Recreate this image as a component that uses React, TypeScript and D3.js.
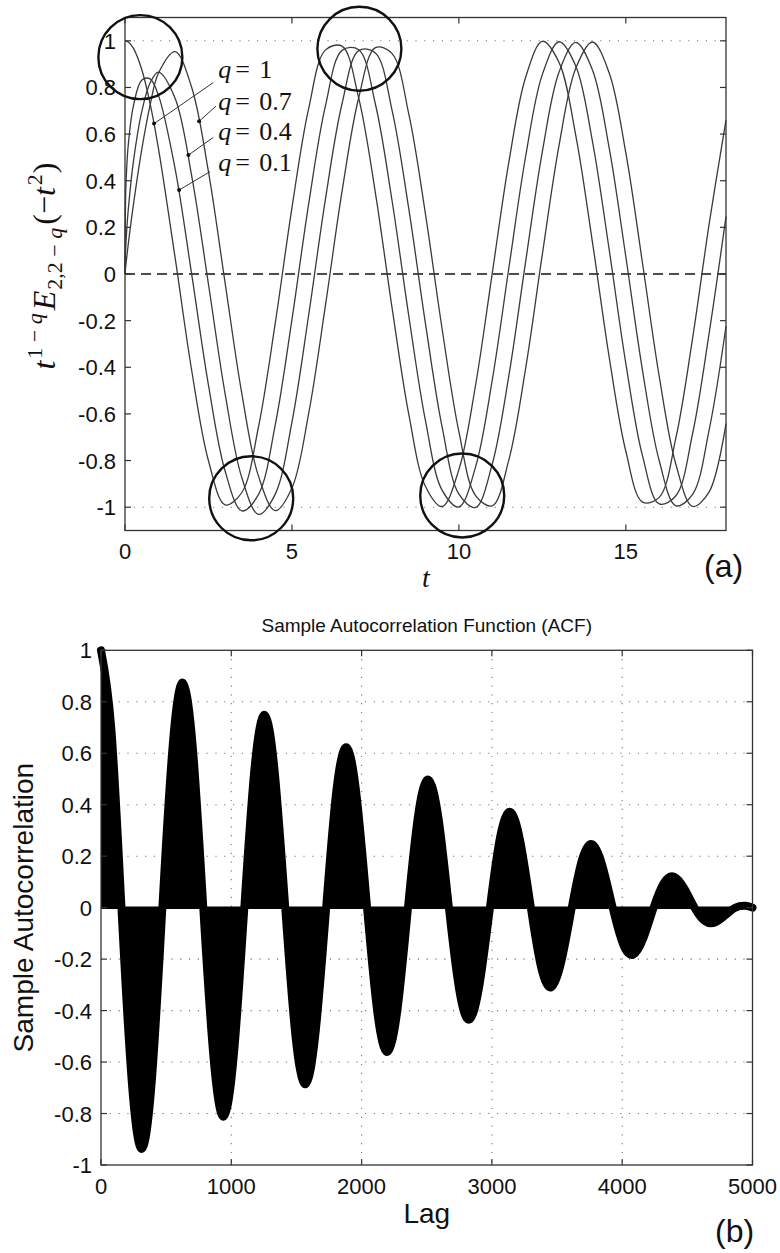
import React from "react";
import * as d3 from "d3";

// ---- panel (a): t^(1-q) E_{2,2-q}(-t^2) ----
const tValues = [
  0, 0.02, 0.05, 0.1, 0.25, 0.5, 0.75, 1, 1.5, 2, 2.5, 3, 3.5, 4, 4.5, 5, 5.5, 6,
  6.5, 7, 7.5, 8, 8.5, 9, 9.5, 10, 10.5, 11, 11.5, 12, 12.5, 13, 13.5, 14, 14.5,
  15, 15.5, 16, 16.5, 17, 17.5, 18,
];
const seriesQ1 = [
  1, 1.0, 0.999, 0.995, 0.969, 0.878, 0.732, 0.54, 0.071, -0.416, -0.801, -0.99,
  -0.937, -0.654, -0.211, 0.284, 0.709, 0.96, 0.977, 0.754, 0.347, -0.146, -0.602,
  -0.911, -0.997, -0.839, -0.476, 0.004, 0.483, 0.844, 0.998, 0.907, 0.595, 0.137,
  -0.355, -0.76, -0.978, -0.958, -0.702, -0.275, 0.219, 0.66,
];
const seriesQ07 = [
  0, 0.345, 0.453, 0.557, 0.72, 0.831, 0.837, 0.767, 0.452, -0.004, -0.477, -0.846,
  -1.016, -0.945, -0.647, -0.196, 0.3, 0.719, 0.959, 0.962, 0.728, 0.313, -0.18,
  -0.63, -0.928, -0.999, -0.827, -0.454, 0.029, 0.505, 0.856, 0.996, 0.892, 0.569,
  0.106, -0.384, -0.78, -0.986, -0.951, -0.684, -0.249, 0.246,
];
const seriesQ04 = [
  0, 0.107, 0.185, 0.28, 0.48, 0.695, 0.819, 0.866, 0.754, 0.419, -0.044, -0.515,
  -0.874, -1.031, -0.944, -0.635, -0.177, 0.318, 0.73, 0.958, 0.948, 0.701, 0.279,
  -0.214, -0.658, -0.944, -1.001, -0.815, -0.433, 0.054, 0.525, 0.866, 0.993, 0.875,
  0.542, 0.074, -0.414, -0.801, -0.994, -0.945, -0.665, -0.224,
];
const seriesQ01 = [
  0, 0.031, 0.07, 0.131, 0.295, 0.532, 0.723, 0.861, 0.954, 0.799, 0.438, -0.04,
  -0.514, -0.868, -1.015, -0.918, -0.599, -0.138, 0.354, 0.756, 0.971, 0.945, 0.686,
  0.256, -0.238, -0.676, -0.95, -0.994, -0.795, -0.404, 0.085, 0.552, 0.882, 0.995,
  0.863, 0.519, 0.046, -0.439, -0.817, -0.997, -0.933, -0.642,
];
const qCurves = [seriesQ1, seriesQ07, seriesQ04, seriesQ01];

const qLabels = ["1", "0.7", "0.4", "0.1"];
// annotation anchors in data units (t, value)
const qDots = [[0.87, 0.645], [2.22, 0.655], [1.9, 0.51], [1.62, 0.36]];
const qLineEnds = [[2.645, 0.821], [2.726, 0.72], [2.645, 0.586], [2.546, 0.439]];
const qTextAt = [[2.79, 0.84], [2.79, 0.703], [2.79, 0.575], [2.79, 0.443]];
const circleCentres = [[0.46, 0.93], [7.02, 0.966], [3.78, -0.962], [10.1, -0.95]];

const tTicks = [0, 5, 10, 15];
const valTicksA = [1, 0.8, 0.6, 0.4, 0.2, 0, -0.2, -0.4, -0.6, -0.8, -1];

// ---- panel (b): sample ACF ----
const lags = [
  0, 79, 157, 236, 314, 393, 471, 550, 628, 707, 785, 864, 942, 1021, 1100, 1178,
  1257, 1335, 1414, 1492, 1571, 1649, 1728, 1806, 1885, 1963, 2042, 2121, 2199, 2278,
  2356, 2435, 2513, 2592, 2670, 2749, 2827, 2906, 2985, 3063, 3142, 3220, 3299, 3377,
  3456, 3534, 3613, 3691, 3770, 3848, 3927, 4006, 4084, 4163, 4241, 4320, 4398, 4477,
  4555, 4634, 4712, 4791, 4869, 4948, 5000,
];
const acf = [
  1, 0.696, 0, -0.674, -0.937, -0.652, 0, 0.629, 0.874, 0.607, 0, -0.585, -0.812,
  -0.563, 0, 0.54, 0.749, 0.518, 0, -0.496, -0.686, -0.474, 0, 0.452, 0.623, 0.429,
  0, -0.407, -0.56, -0.385, 0, 0.363, 0.497, 0.341, 0, -0.318, -0.435, -0.296, 0,
  0.274, 0.372, 0.252, 0, -0.23, -0.309, -0.207, 0, 0.185, 0.246, 0.163, 0, -0.141,
  -0.183, -0.118, 0, 0.096, 0.12, 0.074, 0, -0.052, -0.058, -0.03, 0, 0.007, 0,
];
const lagTicks = [0, 1000, 2000, 3000, 4000, 5000];
const acfTicks = [1, 0.8, 0.6, 0.4, 0.2, 0, -0.2, -0.4, -0.6, -0.8, -1];

const A = { left: 125, right: 726, top: 17.5, bottom: 530.5 };
const B = { left: 101, right: 752.5, top: 650.3, bottom: 1165 };

const sans = "'Liberation Sans', Arial, Helvetica, sans-serif";
const serif = "'Liberation Serif', 'Times New Roman', serif";
const axisColor = "#333";

export default function App() {
  const xA = d3.scaleLinear().domain([0, 18]).range([A.left, A.right]);
  const yA = d3.scaleLinear().domain([-1.1, 1.1]).range([A.bottom, A.top]);
  const xB = d3.scaleLinear().domain([0, 5000]).range([B.left, B.right]);
  const yB = d3.scaleLinear().domain([-1, 1]).range([B.bottom, B.top]);

  const curveA = d3
    .line<number>()
    .x((_, i) => xA(tValues[i]))
    .y((d) => yA(d))
    .curve(d3.curveCatmullRom.alpha(0.5));

  const acfArea = d3
    .area<number>()
    .x((_, i) => xB(lags[i]))
    .y0(yB(0))
    .y1((d) => yB(d))
    .curve(d3.curveNatural);
  const acfLine = d3
    .line<number>()
    .x((_, i) => xB(lags[i]))
    .y((d) => yB(d))
    .curve(d3.curveNatural);

  const tick = 6;

  return (
    <svg
      width={780}
      height={1253}
      viewBox="0 0 780 1253"
      style={{ position: "absolute", left: 0, top: 0, display: "block" }}
      fontFamily={sans}
    >
      <rect width={780} height={1253} fill="#fff" />

      {/* ===== panel (a) ===== */}
      <g>
        {[1, -1].map((v) => (
          <line
            key={v}
            x1={A.left}
            x2={A.right}
            y1={yA(v)}
            y2={yA(v)}
            stroke="#777"
            strokeWidth={1.1}
            strokeDasharray="1.2,7.6"
          />
        ))}
        <line
          x1={A.left}
          x2={A.right}
          y1={yA(0)}
          y2={yA(0)}
          stroke="#111"
          strokeWidth={1.3}
          strokeDasharray="10,6"
        />
        {qCurves.map((s, i) => (
          <path key={i} d={curveA(s) || ""} fill="none" stroke="#3a3a3a" strokeWidth={1.3} />
        ))}

        {/* frame and ticks */}
        <rect
          x={A.left}
          y={A.top}
          width={A.right - A.left}
          height={A.bottom - A.top}
          fill="none"
          stroke={axisColor}
          strokeWidth={1.3}
        />
        {tTicks.map((t) => (
          <g key={t}>
            <line x1={xA(t)} x2={xA(t)} y1={A.bottom} y2={A.bottom - tick} stroke={axisColor} strokeWidth={1.2} />
            <line x1={xA(t)} x2={xA(t)} y1={A.top} y2={A.top + tick} stroke={axisColor} strokeWidth={1.2} />
            <text x={xA(t)} y={559} textAnchor="middle" fontSize={22} fill="#111">
              {String(t)}
            </text>
          </g>
        ))}
        {valTicksA.map((v) => (
          <g key={v}>
            <line x1={A.left} x2={A.left + tick} y1={yA(v)} y2={yA(v)} stroke={axisColor} strokeWidth={1.2} />
            <line x1={A.right} x2={A.right - tick} y1={yA(v)} y2={yA(v)} stroke={axisColor} strokeWidth={1.2} />
            <text x={116} y={yA(v) + 8} textAnchor="end" fontSize={22} fill="#111">
              {String(v)}
            </text>
          </g>
        ))}

        {/* axis labels */}
        <text x={426} y={587} textAnchor="middle" fontFamily={serif} fontStyle="italic" fontSize={28} fill="#111">
          t
        </text>
        <text
          transform="translate(55,266) rotate(-90)"
          textAnchor="middle"
          fontFamily={serif}
          fontSize={32}
          fill="#111"
        >
          <tspan fontStyle="italic">t</tspan>
          <tspan fontSize={22} dy={-13} dx={2}>
            1 − <tspan fontStyle="italic">q</tspan>
          </tspan>
          <tspan fontStyle="italic" dy={13} dx={3}>
            E
          </tspan>
          <tspan fontSize={22} dy={7} dx={1}>
            2,2 − <tspan fontStyle="italic">q</tspan>
          </tspan>
          <tspan dy={-7} dx={3}>
            (−
          </tspan>
          <tspan fontStyle="italic">t</tspan>
          <tspan fontSize={22} dy={-13} dx={2}>
            2
          </tspan>
          <tspan dy={13} dx={1}>)</tspan>
        </text>

        {/* q labels with pointers */}
        {qLabels.map((lab, i) => {
          const x0 = xA(qTextAt[i][0]);
          const yb = yA(qTextAt[i][1]);
          return (
            <g key={lab}>
              <line
                x1={xA(qDots[i][0])}
                y1={yA(qDots[i][1])}
                x2={xA(qLineEnds[i][0])}
                y2={yA(qLineEnds[i][1])}
                stroke="#333"
                strokeWidth={1}
              />
              <circle cx={xA(qDots[i][0])} cy={yA(qDots[i][1])} r={2} fill="#111" />
              <text y={yb} fontFamily={serif} fontSize={26} fill="#111">
                <tspan x={x0} fontStyle="italic">
                  q
                </tspan>
                <tspan x={x0 + 17}>=</tspan>
                <tspan x={x0 + 41}>{lab}</tspan>
              </text>
            </g>
          );
        })}

        {circleCentres.map(([t, v], i) => (
          <circle key={i} cx={xA(t)} cy={yA(v)} r={42} fill="none" stroke="#111" strokeWidth={2.4} />
        ))}

        <text x={704} y={577} fontSize={32} fill="#111">
          (a)
        </text>
      </g>

      {/* ===== panel (b) ===== */}
      <g>
        <text x={(B.left + B.right) / 2} y={632} textAnchor="middle" fontSize={19} fill="#111">
          Sample Autocorrelation Function (ACF)
        </text>

        {lagTicks.slice(1, -1).map((l) => (
          <line
            key={l}
            x1={xB(l)}
            x2={xB(l)}
            y1={B.top}
            y2={B.bottom}
            stroke="#777"
            strokeWidth={1.1}
            strokeDasharray="1.2,7.6"
          />
        ))}
        {acfTicks.slice(1, -1).map((v) => (
          <line
            key={v}
            x1={B.left}
            x2={B.right}
            y1={yB(v)}
            y2={yB(v)}
            stroke="#777"
            strokeWidth={1.1}
            strokeDasharray="1.2,7.6"
          />
        ))}

        <path d={acfArea(acf) || ""} fill="#000" />
        <path
          d={acfLine(acf) || ""}
          fill="none"
          stroke="#000"
          strokeWidth={8}
          strokeLinecap="round"
          strokeLinejoin="round"
        />
        <line x1={B.left} x2={B.right} y1={yB(0)} y2={yB(0)} stroke="#000" strokeWidth={2.5} />

        <rect
          x={B.left}
          y={B.top}
          width={B.right - B.left}
          height={B.bottom - B.top}
          fill="none"
          stroke={axisColor}
          strokeWidth={1.3}
        />
        {lagTicks.map((l) => (
          <g key={l}>
            <line x1={xB(l)} x2={xB(l)} y1={B.bottom} y2={B.bottom - tick} stroke={axisColor} strokeWidth={1.2} />
            <line x1={xB(l)} x2={xB(l)} y1={B.top} y2={B.top + tick} stroke={axisColor} strokeWidth={1.2} />
            <text x={xB(l)} y={1194} textAnchor="middle" fontSize={22} fill="#111">
              {String(l)}
            </text>
          </g>
        ))}
        {acfTicks.map((v) => (
          <g key={v}>
            <line x1={B.left} x2={B.left + tick} y1={yB(v)} y2={yB(v)} stroke={axisColor} strokeWidth={1.2} />
            <line x1={B.right} x2={B.right - tick} y1={yB(v)} y2={yB(v)} stroke={axisColor} strokeWidth={1.2} />
            <text x={92} y={yB(v) + 8} textAnchor="end" fontSize={22} fill="#111">
              {String(v)}
            </text>
          </g>
        ))}

        <text x={(B.left + B.right) / 2} y={1223} textAnchor="middle" fontSize={28} fill="#111">
          Lag
        </text>
        <text
          transform={`translate(33,${(B.top + B.bottom) / 2}) rotate(-90)`}
          textAnchor="middle"
          fontSize={28}
          fill="#111"
        >
          Sample Autocorrelation
        </text>
        <text x={715} y={1242} fontSize={32} fill="#111">
          (b)
        </text>
      </g>
    </svg>
  );
}
